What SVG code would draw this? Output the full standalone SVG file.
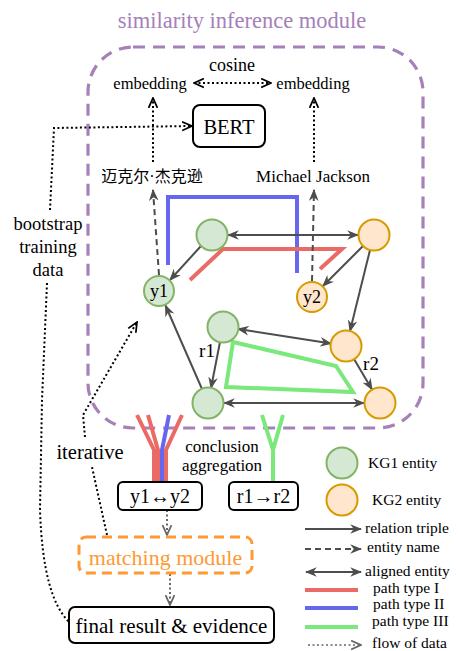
<svg xmlns="http://www.w3.org/2000/svg" width="458" height="651" viewBox="0 0 458 651">
<style>
text{font-family:"Liberation Serif","Times New Roman",serif;fill:#000}
.cjk{font-family:"Liberation Serif","Noto Sans CJK SC","Noto Sans CJK JP",serif}
.g{fill:#d5e8d4;stroke:#82b366;stroke-width:2}
.o{fill:#ffe6cc;stroke:#d79b00;stroke-width:2}
.rel{fill:none;stroke:#4d4d4d;stroke-width:2;marker-end:url(#arr)}
.bi{fill:none;stroke:#4d4d4d;stroke-width:2;marker-end:url(#arr);marker-start:url(#arr)}
.nm{fill:none;stroke:#4d4d4d;stroke-width:2;stroke-dasharray:6 4;marker-end:url(#arr)}
.dot{fill:none;stroke:#000;stroke-width:2;stroke-dasharray:2 2.5}
.dotg{fill:none;stroke:#666;stroke-width:2;stroke-dasharray:2 2.5;marker-end:url(#openg)}
.box{fill:#fff;stroke:#000;stroke-width:2}
.red{fill:none;stroke:#ea6b66;stroke-width:4}
.blue{fill:none;stroke:#6666ee;stroke-width:4}
.green{fill:none;stroke:#7ae87a;stroke-width:4}
.lg{font-size:15.5px}
</style>
<defs>
<marker id="arr" viewBox="0 0 10 8" refX="9" refY="4" markerWidth="12" markerHeight="10" orient="auto-start-reverse" markerUnits="userSpaceOnUse">
<path d="M0,0 L10,4 L0,8 L3,4 Z" fill="#4d4d4d"/>
</marker>
<marker id="open" viewBox="0 0 10 10" refX="9" refY="5" markerWidth="11" markerHeight="11" orient="auto-start-reverse" markerUnits="userSpaceOnUse">
<path d="M0,1 L9,5 L0,9" fill="none" stroke="#000" stroke-width="1.6"/>
</marker>
<marker id="openg" viewBox="0 0 10 10" refX="9" refY="5" markerWidth="11" markerHeight="11" orient="auto-start-reverse" markerUnits="userSpaceOnUse">
<path d="M0,1 L9,5 L0,9" fill="none" stroke="#666" stroke-width="1.6"/>
</marker>
</defs>
<rect width="458" height="651" fill="#fff"/>

<g id="similarity-module">
<rect x="88" y="47" width="335" height="381" rx="45" fill="none" stroke="#a680b8" stroke-width="3.2" stroke-dasharray="12 8"/>
<text x="242" y="28" font-size="22.5" text-anchor="middle" style="fill:#a680b8">similarity inference module</text>
</g>

<g id="paths">
<polyline class="blue" points="168,265 168,197 297,197 297,273"/>
<polyline class="red" points="190,280 223,249 342,249 320,269"/>
<polygon class="green" points="233,342 336,366 353,392 226,387"/>
</g>

<g id="connectors">
<line class="bi" x1="228" y1="235" x2="358" y2="235"/>
<line class="rel" x1="201" y1="246" x2="170" y2="280"/>
<line class="rel" x1="363" y1="246" x2="323" y2="286"/>
<line class="rel" x1="370" y1="250" x2="350" y2="331"/>
<line class="bi" x1="238" y1="329" x2="331" y2="343.5"/>
<line class="rel" x1="220" y1="342" x2="211" y2="388"/>
<line class="rel" x1="354" y1="359" x2="372" y2="389.5"/>
<line class="bi" x1="224" y1="403" x2="364" y2="403"/>
<line class="rel" x1="202" y1="389" x2="165.5" y2="305.5"/>
<line class="nm" x1="159" y1="275" x2="153" y2="190"/>
<line class="nm" x1="312" y1="281" x2="314" y2="190"/>
<line class="dot" x1="153" y1="162" x2="153" y2="98" marker-end="url(#open)"/>
<line class="dot" x1="314" y1="162" x2="314" y2="98" marker-end="url(#open)"/>
<line class="dot" x1="194" y1="83" x2="271" y2="83" marker-end="url(#open)" marker-start="url(#open)"/>
<polyline class="dot" points="50,210 54,128 192,126" marker-end="url(#open)"/>
<path class="dot" d="M47,283 L42,400 L40,510 C42,570 52,605 69,622"/>
<polyline class="dot" points="107,535 92,467"/>
<polyline class="dot" points="85,437 83,415 137,322" marker-end="url(#open)"/>
<line class="dotg" x1="167" y1="510" x2="167" y2="535"/>
<line class="dotg" x1="170" y1="574" x2="170" y2="605"/>
<polyline class="red" points="137,415 154,450 154,481"/>
<polyline class="red" points="148,415 158,450 158,481"/>
<polyline class="red" points="182,415 166,450 166,481"/>
<polyline class="blue" points="169,415 162,450 162,481"/>
<polyline class="green" points="262,415 273,450 273,481"/>
<polyline class="green" points="283,415 273,450"/>
</g>

<g id="texts">
<text x="232" y="71" font-size="18" text-anchor="middle">cosine</text>
<text x="150" y="89" font-size="16.5" text-anchor="middle">embedding</text>
<text x="313" y="89" font-size="16.5" text-anchor="middle">embedding</text>
<text class="cjk" x="152" y="182" font-size="16" text-anchor="middle">迈克尔·杰克逊</text>
<text x="313" y="182" font-size="17" text-anchor="middle">Michael Jackson</text>
<text x="48" y="230" font-size="18.5" text-anchor="middle">bootstrap</text>
<text x="48" y="253" font-size="18.5" text-anchor="middle">training</text>
<text x="48" y="276" font-size="18.5" text-anchor="middle">data</text>
<text x="90" y="459" font-size="20.5" text-anchor="middle">iterative</text>
<text x="222" y="452" font-size="17" text-anchor="middle">conclusion</text>
<text x="222" y="471" font-size="17" text-anchor="middle">aggregation</text>
<text x="207" y="357" font-size="19" text-anchor="middle">r1</text>
<text x="371" y="370" font-size="19" text-anchor="middle">r2</text>
</g>

<g id="bert">
<rect class="box" x="193" y="105" width="72" height="42" rx="7"/>
<text x="229" y="134" font-size="20.5" text-anchor="middle">BERT</text>
</g>

<g id="g-top"><circle class="g" cx="212" cy="235" r="15.5"/></g>
<g id="o-top"><circle class="o" cx="374" cy="235" r="15.5"/></g>
<g id="y1"><circle class="g" cx="159" cy="291" r="15"/><text x="159" y="297" font-size="18" text-anchor="middle">y1</text></g>
<g id="y2"><circle class="o" cx="312" cy="297" r="15"/><text x="312" y="303" font-size="18" text-anchor="middle">y2</text></g>
<g id="g-mid"><circle class="g" cx="223" cy="327" r="15.5"/></g>
<g id="o-mid"><circle class="o" cx="346" cy="346" r="15.5"/></g>
<g id="g-bot"><circle class="g" cx="208" cy="403" r="15.5"/></g>
<g id="o-bot"><circle class="o" cx="380" cy="403" r="15.5"/></g>

<g id="box-y1y2">
<rect class="box" x="118" y="482" width="84" height="28" rx="5"/>
<text x="160" y="503" font-size="20" text-anchor="middle">y1↔y2</text>
</g>
<g id="box-r1r2">
<rect class="box" x="229" y="482" width="69" height="28" rx="5"/>
<text x="263.5" y="503" font-size="20" text-anchor="middle">r1→r2</text>
</g>

<g id="matching-module">
<rect x="79" y="537" width="173" height="36" rx="7" fill="#fff" stroke="#ff9933" stroke-width="3" stroke-dasharray="10 6"/>
<text x="165.5" y="565" font-size="22" text-anchor="middle" style="fill:#ff9933">matching module</text>
</g>

<g id="final-result">
<rect class="box" x="69" y="607" width="205" height="36" rx="6"/>
<text x="171.5" y="633" font-size="21" text-anchor="middle">final result &amp; evidence</text>
</g>

<g id="legend">
<circle class="g" cx="342" cy="463" r="15.5"/>
<text class="lg" x="368" y="468">KG1 entity</text>
<circle class="o" cx="342" cy="500" r="15.5"/>
<text class="lg" x="372" y="505">KG2 entity</text>
<line class="rel" x1="305" y1="529" x2="361" y2="529"/>
<text class="lg" x="365" y="533">relation triple</text>
<line class="nm" x1="305" y1="549" x2="361" y2="549"/>
<text class="lg" x="367" y="552">entity name</text>
<line class="bi" x1="306" y1="572" x2="361" y2="572"/>
<text class="lg" x="365" y="576">aligned entity</text>
<line class="red" x1="305" y1="590" x2="358" y2="590"/>
<text class="lg" x="373" y="593">path type I</text>
<line class="blue" x1="305" y1="608" x2="358" y2="608"/>
<text class="lg" x="373" y="609">path type II</text>
<line class="green" x1="305" y1="627" x2="358" y2="627"/>
<text class="lg" x="372" y="626">path type III</text>
<line class="dotg" x1="308" y1="645" x2="361" y2="645" style="stroke-width:1.5"/>
<text class="lg" x="372" y="648">flow of data</text>
</g>
</svg>
